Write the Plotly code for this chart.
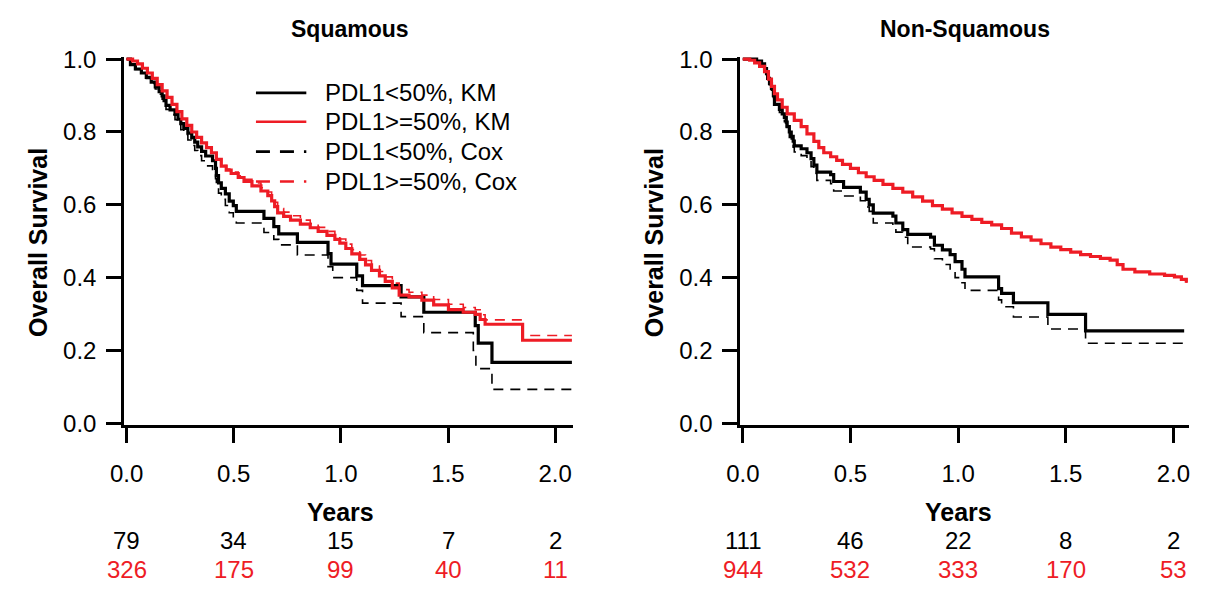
import plotly.graph_objects as go

# ---------------- DATA ----------------
# Squamous panel
sq_lo_km_t = [0, 0.018, 0.041, 0.069, 0.092, 0.115, 0.134, 0.152, 0.166, 0.175, 0.184, 0.203, 0.226, 0.240,
              0.253, 0.267, 0.286, 0.304, 0.318, 0.332, 0.350, 0.369, 0.401, 0.415, 0.419, 0.429, 0.442,
              0.461, 0.479, 0.498, 0.512, 0.641, 0.687, 0.710, 0.797, 0.940, 0.954, 1.074, 1.101, 1.281,
              1.387, 1.627, 1.641, 1.705, 2.078]
sq_lo_km_s = [1.0, 0.985, 0.973, 0.962, 0.95, 0.937, 0.924, 0.911, 0.899, 0.886, 0.873, 0.861, 0.848, 0.835,
              0.823, 0.810, 0.797, 0.785, 0.772, 0.759, 0.747, 0.734, 0.721, 0.70, 0.68, 0.66, 0.645,
              0.63, 0.61, 0.598, 0.582, 0.563, 0.54, 0.52, 0.497, 0.466, 0.437, 0.405, 0.378, 0.347,
              0.305, 0.268, 0.22, 0.167, 0.167]

sq_lo_cox_t = [0, 0.018, 0.041, 0.069, 0.092, 0.115, 0.134, 0.152, 0.166, 0.175, 0.184, 0.203, 0.226, 0.240,
               0.253, 0.267, 0.286, 0.304, 0.318, 0.332, 0.350, 0.369, 0.401, 0.415, 0.419, 0.429, 0.442,
               0.461, 0.479, 0.498, 0.512, 0.641, 0.687, 0.710, 0.797, 0.940, 0.962, 1.074, 1.101, 1.281,
               1.387, 1.618, 1.630, 1.705, 2.078]
sq_lo_cox_s = [1.0, 0.985, 0.972, 0.96, 0.947, 0.933, 0.918, 0.904, 0.890, 0.876, 0.862, 0.848, 0.834, 0.820,
               0.806, 0.792, 0.778, 0.763, 0.749, 0.735, 0.721, 0.707, 0.692, 0.672, 0.652, 0.632, 0.615,
               0.598, 0.578, 0.565, 0.55, 0.524, 0.505, 0.49, 0.462, 0.43, 0.40, 0.365, 0.33, 0.293,
               0.249, 0.20, 0.15, 0.093, 0.093]

sq_hi_km_t = [0, 0.028, 0.051, 0.074, 0.097, 0.120, 0.143, 0.166, 0.189, 0.212, 0.235, 0.258, 0.281, 0.304,
              0.327, 0.350, 0.373, 0.396, 0.419, 0.442, 0.465, 0.488, 0.521, 0.548, 0.585, 0.627, 0.659,
              0.677, 0.691, 0.705, 0.733, 0.765, 0.811, 0.857, 0.894, 0.935, 0.972, 0.995, 1.023, 1.051,
              1.088, 1.115, 1.143, 1.180, 1.207, 1.240, 1.272, 1.318, 1.378, 1.433, 1.502, 1.571, 1.627,
              1.650, 1.673, 1.848, 2.078]
sq_hi_km_s = [1.0, 0.995, 0.987, 0.975, 0.962, 0.947, 0.93, 0.913, 0.895, 0.876, 0.856, 0.836, 0.818, 0.80,
              0.785, 0.77, 0.757, 0.743, 0.725, 0.706, 0.695, 0.686, 0.675, 0.664, 0.652, 0.638, 0.625,
              0.611, 0.595, 0.578, 0.568, 0.558, 0.547, 0.537, 0.527, 0.516, 0.505, 0.495, 0.48, 0.465,
              0.45, 0.435, 0.42, 0.405, 0.39, 0.372, 0.352, 0.347, 0.338, 0.325, 0.312, 0.305, 0.299,
              0.285, 0.272, 0.228, 0.228]

sq_hi_cox_t = sq_hi_km_t
sq_hi_cox_s = [1.0, 0.995, 0.987, 0.975, 0.962, 0.947, 0.93, 0.913, 0.895, 0.876, 0.856, 0.836, 0.818, 0.80,
               0.785, 0.77, 0.757, 0.743, 0.725, 0.708, 0.698, 0.69, 0.68, 0.67, 0.66, 0.647, 0.635,
               0.622, 0.607, 0.59, 0.58, 0.57, 0.558, 0.548, 0.538, 0.527, 0.516, 0.506, 0.492, 0.477,
               0.462, 0.447, 0.432, 0.417, 0.402, 0.385, 0.367, 0.36, 0.352, 0.34, 0.327, 0.318, 0.312,
               0.298, 0.284, 0.241, 0.241]

# Non-Squamous panel
ns_lo_km_t = [0, 0.064, 0.087, 0.101, 0.110, 0.115, 0.124, 0.133, 0.142, 0.147, 0.170, 0.183, 0.193, 0.202,
              0.206, 0.216, 0.225, 0.234, 0.239, 0.271, 0.298, 0.317, 0.330, 0.344, 0.408, 0.422, 0.468,
              0.546, 0.573, 0.587, 0.606, 0.697, 0.711, 0.743, 0.766, 0.872, 0.890, 0.927, 0.963, 0.986,
              1.018, 1.032, 1.188, 1.202, 1.257, 1.417, 1.592, 2.050]
ns_lo_km_s = [1.0, 0.995, 0.987, 0.974, 0.96, 0.947, 0.933, 0.92, 0.90, 0.876, 0.862, 0.85, 0.84, 0.827,
              0.815, 0.80, 0.788, 0.775, 0.762, 0.754, 0.743, 0.727, 0.709, 0.69, 0.683, 0.664, 0.648,
              0.635, 0.615, 0.60, 0.577, 0.569, 0.55, 0.532, 0.519, 0.511, 0.489, 0.476, 0.463, 0.444,
              0.423, 0.402, 0.37, 0.357, 0.331, 0.299, 0.254, 0.254]

ns_lo_cox_t = ns_lo_km_t
ns_lo_cox_s = [1.0, 0.995, 0.987, 0.973, 0.958, 0.944, 0.93, 0.915, 0.895, 0.87, 0.854, 0.84, 0.828, 0.814,
               0.80, 0.785, 0.772, 0.758, 0.745, 0.735, 0.722, 0.705, 0.686, 0.667, 0.658, 0.638, 0.624,
               0.611, 0.594, 0.582, 0.55, 0.542, 0.525, 0.511, 0.484, 0.479, 0.452, 0.436, 0.418, 0.400,
               0.386, 0.365, 0.339, 0.32, 0.292, 0.259, 0.22, 0.22]

ns_hi_km_t = [0, 0.032, 0.055, 0.078, 0.101, 0.119, 0.133, 0.147, 0.161, 0.183, 0.206, 0.239, 0.271, 0.298,
              0.330, 0.353, 0.376, 0.408, 0.436, 0.463, 0.500, 0.537, 0.573, 0.610, 0.651, 0.697, 0.743,
              0.789, 0.835, 0.881, 0.927, 0.972, 1.018, 1.064, 1.110, 1.156, 1.202, 1.248, 1.294, 1.339,
              1.385, 1.431, 1.477, 1.523, 1.569, 1.615, 1.661, 1.706, 1.739, 1.766, 1.821, 1.890, 1.959,
              2.005, 2.037, 2.060]
ns_hi_km_s = [1.0, 0.997, 0.99, 0.98, 0.966, 0.945, 0.925, 0.905, 0.888, 0.868, 0.85, 0.832, 0.815, 0.795,
              0.774, 0.757, 0.743, 0.732, 0.722, 0.711, 0.70, 0.688, 0.677, 0.667, 0.656, 0.645, 0.635,
              0.622, 0.61, 0.598, 0.588, 0.578, 0.568, 0.56, 0.552, 0.545, 0.535, 0.522, 0.512, 0.503,
              0.493, 0.484, 0.477, 0.47, 0.463, 0.458, 0.453, 0.448, 0.436, 0.423, 0.416, 0.41, 0.406,
              0.402, 0.395, 0.386]
ns_hi_cox_t = ns_hi_km_t
ns_hi_cox_s = ns_hi_km_s

tick_vals_x = [0, 0.5, 1.0, 1.5, 2.0]
tick_vals_y = [0, 0.2, 0.4, 0.6, 0.8, 1.0]
sq_risk_lo = [79, 34, 15, 7, 2]
sq_risk_hi = [326, 175, 99, 40, 11]
ns_risk_lo = [111, 46, 22, 8, 2]
ns_risk_hi = [944, 532, 333, 170, 53]
legend_labels = ["PDL1<50%, KM", "PDL1>=50%, KM", "PDL1<50%, Cox", "PDL1>=50%, Cox"]

# ---------------- STYLE ----------------
W, H = 1206, 599
RED = "#ee1c25"
BLACK = "#000000"
FONT = "Liberation Sans, Arial, sans-serif"


def px(x):
    return x / W


def py(y):
    return 1 - y / H


fig = go.Figure()

panels = [
    ("x", "y", sq_lo_km_t, sq_lo_km_s, sq_hi_km_t, sq_hi_km_s, sq_lo_cox_t, sq_lo_cox_s, sq_hi_cox_t, sq_hi_cox_s),
    ("x2", "y2", ns_lo_km_t, ns_lo_km_s, ns_hi_km_t, ns_hi_km_s, ns_lo_cox_t, ns_lo_cox_s, ns_hi_cox_t, ns_hi_cox_s),
]
for xa, ya, lkt, lks, hkt, hks, lct, lcs, hct, hcs in panels:
    fig.add_trace(go.Scatter(x=lct, y=lcs, mode="lines", line=dict(color=BLACK, width=1.6, dash="10px,7px", shape="hv"),
                             xaxis=xa, yaxis=ya, showlegend=False))
    fig.add_trace(go.Scatter(x=lkt, y=lks, mode="lines", line=dict(color=BLACK, width=3.2, shape="hv"),
                             xaxis=xa, yaxis=ya, showlegend=False))
    fig.add_trace(go.Scatter(x=hkt, y=hks, mode="lines", line=dict(color=RED, width=3.2, shape="hv"),
                             xaxis=xa, yaxis=ya, showlegend=False))
    fig.add_trace(go.Scatter(x=hct, y=hcs, mode="lines", line=dict(color=RED, width=1.6, dash="10px,7px", shape="hv"),
                             xaxis=xa, yaxis=ya, showlegend=False))

# axes geometry (pixels)
ytop, ybot = 50, 428
ypad = 0.006
yunit = (ybot - ytop)
dom_y = [py(ybot + ypad * yunit), py(ytop - ypad * yunit)]

axis_common = dict(showgrid=False, zeroline=False, showline=True, linecolor="black", linewidth=2.6,
                   ticks="outside", ticklen=15, tickwidth=2.6, tickcolor="black",
                   tickfont=dict(family=FONT, size=24, color="black"), fixedrange=True)


def xdom(x0, ppy, xend, pad=0.012):
    return [px(x0 - pad * ppy), px(xend)], [-pad, (xend - x0) / ppy]


d1, r1 = xdom(114, 217, 566)
d2, r2 = xdom(738, 218, 1190)

fig.update_layout(
    xaxis=dict(domain=d1, range=r1, tickvals=tick_vals_x, ticktext=[f"{v:.1f}" for v in tick_vals_x],
               anchor="y", ticklabelstandoff=10, **axis_common),
    yaxis=dict(domain=dom_y, range=[-ypad, 1 + ypad], tickvals=tick_vals_y,
               ticktext=[f"{v:.1f}" for v in tick_vals_y], anchor="x", ticklabelstandoff=5, **axis_common),
    xaxis2=dict(domain=d2, range=r2, tickvals=tick_vals_x, ticktext=[f"{v:.1f}" for v in tick_vals_x],
                anchor="y2", ticklabelstandoff=10, **axis_common),
    yaxis2=dict(domain=dom_y, range=[-ypad, 1 + ypad], tickvals=tick_vals_y,
                ticktext=[f"{v:.1f}" for v in tick_vals_y], anchor="x2", ticklabelstandoff=5, **axis_common),
    width=W, height=H, margin=dict(l=0, r=0, t=0, b=0),
    paper_bgcolor="white", plot_bgcolor="white", showlegend=False,
)

ann = []


def add_text(text, x, y, size, color="black", xref="paper", xanchor="center", angle=0):
    ann.append(dict(text=text, x=x, y=y, xref=xref, yref="paper", showarrow=False,
                    xanchor=xanchor, yanchor="middle", textangle=angle,
                    font=dict(family=FONT, size=size, color=color)))


# titles
add_text("<b>Squamous</b>", px(340), py(19), 23)
add_text("<b>Non-Squamous</b>", px(963), py(19), 23)
# y titles
for xx in (24, 648):
    add_text("<b>Overall Survival</b>", px(xx), py(240), 25, angle=-90)
# Years + at-risk
for xa, lo, hi in (("x", sq_risk_lo, sq_risk_hi), ("x2", ns_risk_lo, ns_risk_hi)):
    add_text("<b>Years</b>", 1.0, py(520), 25, xref=xa)
    for tv, a, b in zip(tick_vals_x, lo, hi):
        add_text(str(a), tv, py(550), 24, xref=xa)
        add_text(str(b), tv, py(580), 24, color=RED, xref=xa)

# legend (manual)
leg_rows = [85, 115, 146, 177]
leg_colors = [BLACK, RED, BLACK, RED]
leg_dash = ["solid", "solid", "14px,10px", "14px,10px"]
shapes = []
for lab, yy, col, dsh in zip(legend_labels, leg_rows, leg_colors, leg_dash):
    shapes.append(dict(type="line", xref="paper", yref="paper", x0=px(245), x1=px(296), y0=py(yy), y1=py(yy),
                       line=dict(color=col, width=2.6, dash=dsh)))
    add_text(lab, px(313), py(yy), 24, xanchor="left")

fig.update_layout(annotations=ann, shapes=shapes)
fig.write_html("out.html", config={"displayModeBar": False},
               post_script="document.body.style.margin='0';")
